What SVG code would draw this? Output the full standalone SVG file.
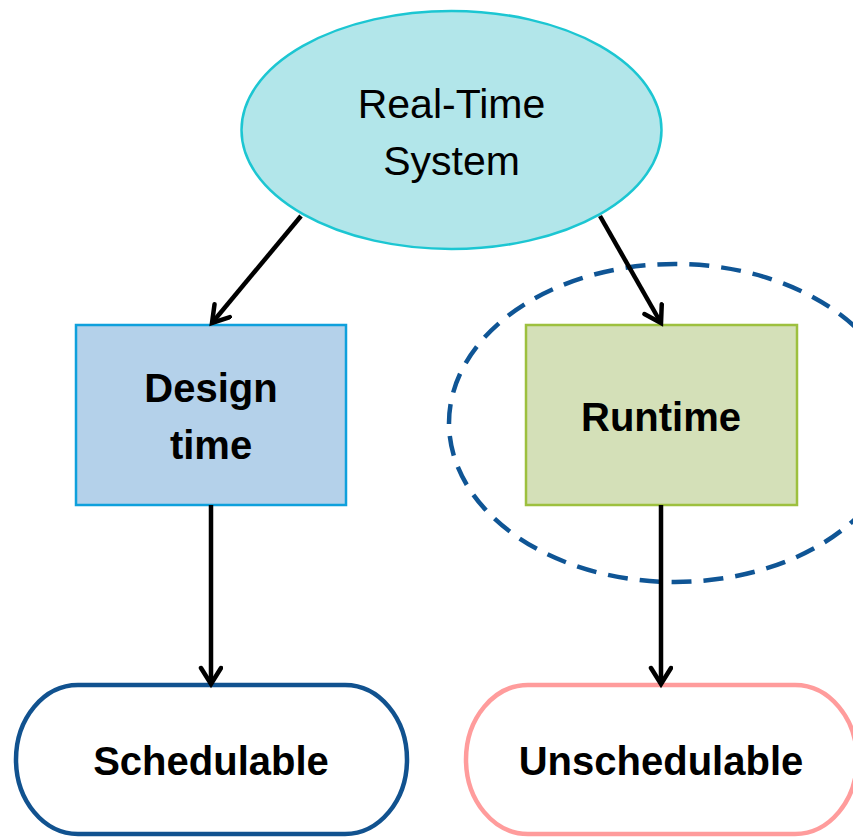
<svg xmlns="http://www.w3.org/2000/svg" width="853" height="839" viewBox="0 0 853 839">
  <style>
    .lbl { font-family: "Liberation Sans", Arial, sans-serif; fill: #000; text-anchor: middle; }
    .reg { font-size: 41px; }
    .bold { font-size: 40px; font-weight: bold; }
    .edge { stroke: #000; stroke-width: 4.5; fill: none; marker-end: url(#arrow); }
  </style>
  <defs>
    <marker id="arrow" markerUnits="userSpaceOnUse" markerWidth="30" markerHeight="30" refX="22" refY="12" orient="auto">
      <path d="M6,2 L22,12 L6,22" fill="none" stroke="#000" stroke-width="4.5" stroke-linecap="round" stroke-linejoin="miter"/>
    </marker>
  </defs>
  <rect width="853" height="839" fill="#ffffff"/>

  <!-- dashed region around the runtime branch -->
  <g id="runtime-region">
    <ellipse cx="675" cy="423" rx="226" ry="159" fill="none" stroke="#0f5595" stroke-width="4.5" stroke-dasharray="20 12"/>
  </g>

  <g id="real-time-system">
    <ellipse cx="451.5" cy="130" rx="210" ry="119" fill="#b2e6ea" stroke="#1cc6d2" stroke-width="2.5"/>
    <text class="lbl reg" x="451.5" y="118">Real-Time</text>
    <text class="lbl reg" x="451.5" y="175">System</text>
  </g>

  <g id="design-time">
    <rect x="76" y="325" width="270" height="180" fill="#b4d1ea" stroke="#0ea0dc" stroke-width="2.5"/>
    <text class="lbl bold" x="211" y="402">Design</text>
    <text class="lbl bold" x="211" y="459">time</text>
  </g>

  <g id="runtime">
    <rect x="526" y="325" width="271" height="180" fill="#d4e0b8" stroke="#9dc03e" stroke-width="2.5"/>
    <text class="lbl bold" x="661" y="431" font-size="41">Runtime</text>
  </g>

  <g id="schedulable">
    <rect x="16" y="685" width="391" height="149" rx="62" ry="74.5" fill="#ffffff" stroke="#11528f" stroke-width="4.5"/>
    <text class="lbl bold" x="211" y="775">Schedulable</text>
  </g>

  <g id="unschedulable">
    <rect x="466" y="685" width="391" height="149" rx="62" ry="74.5" fill="#ffffff" stroke="#ff9c9c" stroke-width="4.5"/>
    <text class="lbl bold" x="661" y="775">Unschedulable</text>
  </g>

  <g id="connectors">
    <line class="edge" x1="301" y1="216" x2="212" y2="323"/>
    <line class="edge" x1="600" y1="216" x2="661" y2="323"/>
    <line class="edge" x1="211" y1="505" x2="211" y2="684"/>
    <line class="edge" x1="661" y1="505" x2="661" y2="684"/>
  </g>
</svg>
